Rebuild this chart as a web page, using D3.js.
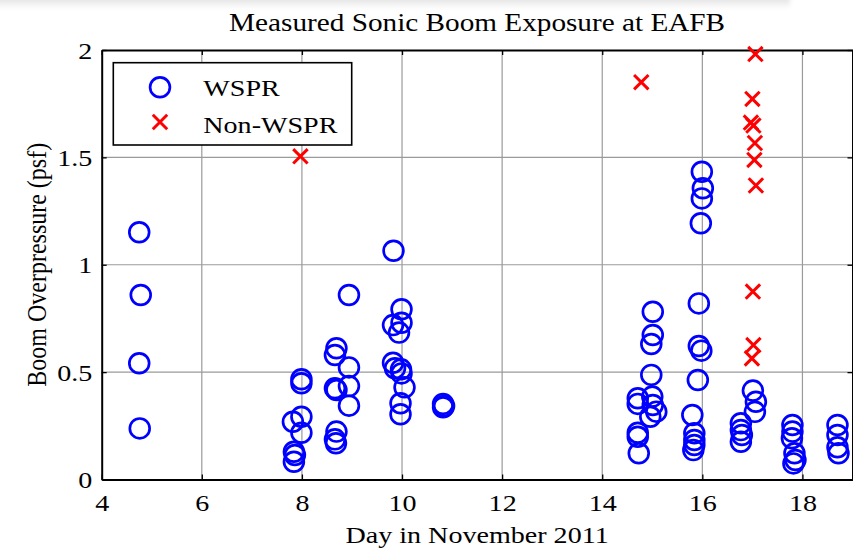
<!DOCTYPE html>
<html>
<head>
<meta charset="utf-8">
<script src="https://cdn.jsdelivr.net/npm/d3@7"></script>
<style>
  html, body { margin: 0; padding: 0; background: #fff; }
  svg { display: block; }
  text { font-family: "Liberation Serif", "Times New Roman", serif; fill: #000; }
</style>
</head>
<body>
<svg id="chart" width="853" height="549"></svg>
<script>
// Measured boom overpressure (psf) by day of November 2011
const wsprDay = [
  4.75, 4.78, 4.75, 4.76,
  7.99, 7.99, 7.82, 7.99, 7.99, 7.84, 7.86, 7.84,
  8.69, 8.66, 8.94, 8.66, 8.69, 8.94, 8.94, 8.69, 8.66, 8.68, 8.94,
  9.83, 9.99, 9.99, 9.82, 9.94, 9.82, 9.86, 9.98, 9.99, 10.05, 9.97, 9.97,
  10.82, 10.84, 10.82,
  15.01, 15.01, 14.98, 14.98, 14.71, 14.71, 15.00, 15.01, 15.08, 14.96, 14.71, 14.71, 14.73,
  15.99, 16.01, 15.99, 15.97, 15.93, 15.93, 15.98, 15.91, 15.80, 15.84, 15.84, 15.84, 15.82,
  17.01, 17.07, 17.05, 16.77, 16.77, 16.79, 16.77,
  17.80, 17.80, 17.79, 17.84, 17.86, 17.82,
  18.70, 18.70, 18.70, 18.72
];
const wsprPsf = [
  1.151, 0.859, 0.541, 0.238,
  0.467, 0.448, 0.269, 0.292, 0.218, 0.129, 0.114, 0.083,
  0.611, 0.580, 0.522, 0.425, 0.417, 0.435, 0.344, 0.223, 0.187, 0.169, 0.859,
  1.065, 0.793, 0.730, 0.719, 0.684, 0.544, 0.518, 0.513, 0.494, 0.429, 0.355, 0.304,
  0.352, 0.342, 0.336,
  0.781, 0.673, 0.631, 0.487, 0.378, 0.352, 0.386, 0.347, 0.316, 0.292, 0.218, 0.199, 0.122,
  1.433, 1.356, 1.309, 1.193, 0.820, 0.622, 0.600, 0.463, 0.300, 0.215, 0.184, 0.161, 0.137,
  0.414, 0.362, 0.315, 0.262, 0.230, 0.207, 0.176,
  0.254, 0.223, 0.192, 0.122, 0.091, 0.075,
  0.254, 0.207, 0.150, 0.122
];
const nonWsprDay = [7.97, 14.78, 17.06, 17.00, 16.97, 17.02, 17.05, 17.04, 17.07, 17.01, 17.02, 16.99];
const nonWsprPsf = [1.505, 1.850, 1.981, 1.772, 1.662, 1.648, 1.567, 1.488, 1.369, 0.875, 0.626, 0.564];

const xTicks = [4, 6, 8, 10, 12, 14, 16, 18];
const yTicks = [0, 0.5, 1, 1.5, 2];
const yTickLabels = ["0", "0.5", "1", "1.5", "2"];

const titleText = "Measured Sonic Boom Exposure at EAFB";
const xLabel = "Day in November 2011";
const yLabel = "Boom Overpressure (psf)";
const seriesNames = ["WSPR", "Non-WSPR"];

const plotL = 101.7, plotR = 852.5, plotT = 50, plotB = 479.5;
const SX = 1.17;          // horizontal widening of the serif lettering
const FS = 24;

const svg = d3.select("#chart");

// soft grey band along the top edge
const defs = svg.append("defs");
const grad = defs.append("linearGradient").attr("id", "topShade")
  .attr("x1", 0).attr("y1", 0).attr("x2", 0).attr("y2", 1);
grad.append("stop").attr("offset", "0%").attr("stop-color", "#dcdcdc");
grad.append("stop").attr("offset", "100%").attr("stop-color", "#ffffff");
defs.append("filter").attr("id", "soft").append("feGaussianBlur").attr("stdDeviation", 2);
svg.append("rect").attr("x", -5).attr("y", -4).attr("width", 795).attr("height", 13)
  .attr("fill", "url(#topShade)").attr("filter", "url(#soft)");

const x = d3.scaleLinear().domain([4, 19]).range([plotL, plotR]);
const y = d3.scaleLinear().domain([0, 2]).range([plotB, plotT]);

// grid
const grid = svg.append("g").attr("stroke", "#9a9a9a").attr("stroke-width", 1.2);
grid.selectAll("line.vx").data(xTicks.slice(1)).join("line")
  .attr("x1", d => x(d)).attr("x2", d => x(d)).attr("y1", plotT).attr("y2", plotB);
grid.selectAll("line.hy").data(yTicks.slice(1, -1)).join("line")
  .attr("y1", d => y(d)).attr("y2", d => y(d)).attr("x1", plotL).attr("x2", plotR);

// axes with inward ticks
const fontAttrs = sel => sel.selectAll("text")
  .attr("font-size", FS)
  .attr("font-family", "Liberation Serif, Times New Roman, serif")
  .attr("fill", "#000");

const gx = svg.append("g").attr("transform", `translate(0,${plotB})`)
  .call(d3.axisBottom(x).tickValues(xTicks).tickSize(-5).tickPadding(14).tickSizeOuter(0));
fontAttrs(gx);
gx.selectAll("text").attr("transform", `scale(${SX},1)`).attr("dy", "0.71em").attr("y", 14);

const gy = svg.append("g").attr("transform", `translate(${plotL},0)`)
  .call(d3.axisLeft(y).tickValues(yTicks).tickFormat((d, i) => yTickLabels[i]).tickSize(-5).tickPadding(8).tickSizeOuter(0));
fontAttrs(gy);
gy.selectAll("text").attr("transform", `scale(${SX},1)`).attr("x", -8).attr("dy", "0.34em");

const gTop = svg.append("g").attr("transform", `translate(0,${plotT})`)
  .call(d3.axisTop(x).tickValues(xTicks).tickSize(-5).tickFormat("").tickSizeOuter(0));
const gRight = svg.append("g").attr("transform", `translate(${plotR},0)`)
  .call(d3.axisRight(y).tickValues(yTicks).tickSize(-5).tickFormat("").tickSizeOuter(0));

[gx, gy, gTop, gRight].forEach(g => {
  g.select(".domain").attr("stroke", "#000").attr("stroke-width", 2);
  g.selectAll(".tick line").attr("stroke", "#000").attr("stroke-width", 1.3);
});

// markers
const R = 9.9;
const xArm = 7.2;
const crossPath = `M${-xArm},${-xArm}L${xArm},${xArm}M${-xArm},${xArm}L${xArm},${-xArm}`;

svg.append("g").selectAll("circle").data(d3.range(wsprDay.length)).join("circle")
  .attr("cx", i => x(wsprDay[i])).attr("cy", i => y(wsprPsf[i])).attr("r", R)
  .attr("fill", "none").attr("stroke", "#0000ff").attr("stroke-width", 2.7);

svg.append("g").selectAll("path").data(d3.range(nonWsprDay.length)).join("path")
  .attr("transform", i => `translate(${x(nonWsprDay[i])},${y(nonWsprPsf[i])})`)
  .attr("d", crossPath).attr("fill", "none").attr("stroke", "#ff0000").attr("stroke-width", 3);

// legend
const lg = svg.append("g");
lg.append("rect").attr("x", 113.3).attr("y", 62.7).attr("width", 238.4).attr("height", 82.3)
  .attr("fill", "#fff").attr("stroke", "#000").attr("stroke-width", 1.6);
lg.append("circle").attr("cx", 160).attr("cy", 87.3).attr("r", R)
  .attr("fill", "none").attr("stroke", "#0000ff").attr("stroke-width", 2.7);
lg.append("path").attr("transform", "translate(160,122)").attr("d", crossPath)
  .attr("fill", "none").attr("stroke", "#ff0000").attr("stroke-width", 3);

function label(txt, px, py, opts = {}) {
  const rot = opts.rotate ? ` rotate(${opts.rotate})` : "";
  return svg.append("text")
    .attr("transform", `translate(${px},${py}) scale(${SX},1)${rot}`)
    .attr("text-anchor", opts.anchor || "start")
    .attr("font-size", opts.size || FS)
    .text(txt);
}

label(seriesNames[0], 203.3, 95.7);
label(seriesNames[1], 203.3, 133);

label(titleText, (plotL + plotR) / 2, 30.5, { anchor: "middle", size: 25 });
label(xLabel, (plotL + plotR) / 2, 543, { anchor: "middle" });
label(yLabel, 46, (plotT + plotB) / 2, { anchor: "middle", rotate: -90 });
</script>
</body>
</html>
